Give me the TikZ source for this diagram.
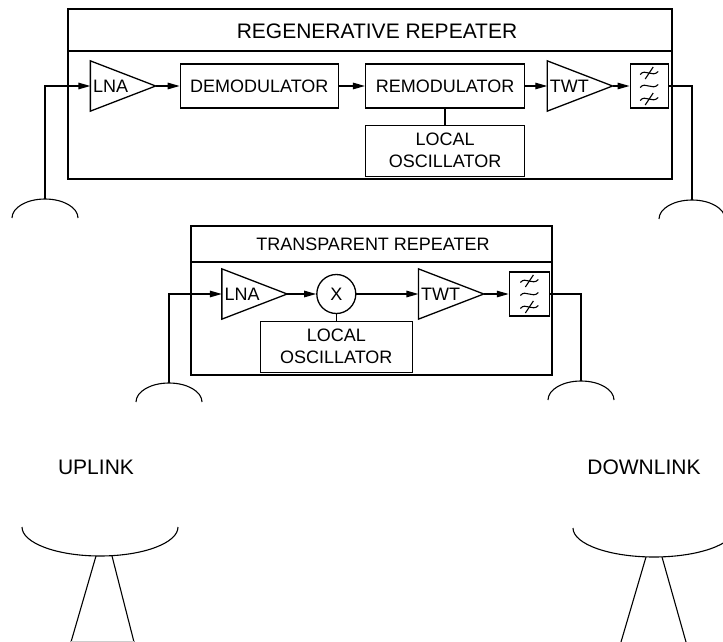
\documentclass[tikz,border=0pt]{standalone}
\usepackage{fontspec}
\setmainfont{Liberation Sans}
\usetikzlibrary{positioning, arrows.meta}

\tikzset{
    block/.style={draw, minimum height=44pt, align=center, inner sep=0pt},
    amp/.style={minimum width=64pt, minimum height=49pt, inner xsep=2pt,
        inner ysep=0pt, text width=60pt, align=left},
    filt/.style={draw, minimum width=38pt, minimum height=44pt, inner sep=0pt,
        path picture={
            \begin{scope}[shift={(path picture bounding box.center)}, line width=1.1pt]
                \foreach \dy in {13,0,-13}
                    \draw ([yshift=\dy pt]-9pt,-1.5pt) .. controls ([yshift=\dy pt]-4pt,5pt)
                        and ([yshift=\dy pt]3pt,-5pt) .. ([yshift=\dy pt]9pt,1.5pt);
                \foreach \dy in {13,-13}
                    \draw ([yshift=\dy pt]-4pt,-6pt) -- ([yshift=\dy pt]4pt,6pt);
            \end{scope}
        }},
    dish/.style={line width=1.1pt},
    biglabel/.style={font=\fontsize{21}{24}\selectfont}
}

\begin{document}
\begin{tikzpicture}[
    x=1pt, y=-1pt, >={Triangle[length=12pt,width=6.5pt]},
    line width=1.3pt, node font=\fontsize{18}{22}\selectfont
]
    \useasboundingbox (0,0) rectangle (723,642);

    % regenerative repeater
    \node[draw, minimum width=604pt, minimum height=170pt] (regen) at (370,94) {};
    \node[biglabel] (regentitle) at (377,31) {REGENERATIVE REPEATER};
    \coordinate (regensplit) at (0,51);
    \draw (regen.west |- regensplit) -- (regen.east |- regensplit);

    \node[amp]                                   (lna1)  at (123,86) {LNA};
    \node[block, minimum width=158pt, right=24pt of lna1]  (demod) {DEMODULATOR};
    \node[block, minimum width=159pt, right=26pt of demod] (remod) {REMODULATOR};
    \node[amp, right=22pt of remod]              (twt1)  {TWT};
    \node[filt, right=17pt of twt1]              (filt1) {};
    \node[block, minimum width=159pt, minimum height=51pt, below=16pt of remod] (losc1) {LOCAL\\OSCILLATOR};

    \draw[->] (lna1.east)  -- (demod.west);
    \draw[->] (demod.east) -- (remod.west);
    \draw[->] (remod.east) -- (twt1.west);
    \draw[->] (twt1.east)  -- (filt1.west);
    \draw (remod) -- (losc1);

    % transparent repeater
    \node[draw, minimum width=361pt, minimum height=149pt] (transp) at (371.5,300.5) {};
    \node (transptitle) at (373,244.5) {TRANSPARENT REPEATER};
    \coordinate (transpsplit) at (0,262);
    \draw (transp.west |- transpsplit) -- (transp.east |- transpsplit);

    \node[amp]                                          (lna2) at (254.5,294) {LNA};
    \node[circle, draw, minimum size=39pt, inner sep=0pt, right=29pt of lna2] (mix) {X};
    \node[amp, right=62pt of mix]                       (twt2) {TWT};
    \node[filt, minimum width=40pt, right=25pt of twt2] (filt2) {};
    \node[block, minimum width=152pt, minimum height=51pt, below=6.5pt of mix] (losc2) {LOCAL\\OSCILLATOR};

    \draw[->] (lna2.east) -- (mix);
    \draw[->] (mix) -- (twt2.west);
    \draw[->] (twt2.east) -- (filt2.west);
    \draw (mix) -- (losc2);

    % amplifier triangles
    \foreach \a in {lna1,twt1,lna2,twt2}
        \draw (\a.north west) -- (\a.east) -- (\a.south west) -- cycle;

    % satellite antennas and feeds
    \coordinate (uprx1)  at (45,199);
    \coordinate (dntx1)  at (692,200);
    \coordinate (uprx2)  at (169,383);
    \coordinate (dntx2)  at (581,381);
    \draw[->] (uprx1) |- (lna1.west);
    \draw (filt1.east) -| (dntx1);
    \draw[->] (uprx2) |- (lna2.west);
    \draw (filt2.east) -| (dntx2);
    \foreach \p in {uprx1,dntx1,uprx2,dntx2}
        \draw[dish] ([xshift=-33pt, yshift=-19pt]\p) arc[start angle=180, end angle=0, x radius=33pt, y radius=19pt];

    % earth stations
    \node[biglabel] (uplink)   at (96,467)  {UPLINK};
    \node[biglabel] (downlink) at (644,467) {DOWNLINK};

    \coordinate (updish) at (100,527);
    \coordinate (dndish) at (654,528);
    \draw[dish] ([xshift=-78pt]updish) arc[start angle=180, end angle=360, x radius=78pt, y radius=29pt];
    \draw[dish] ([xshift=-81pt]dndish) arc[start angle=180, end angle=360, x radius=81pt, y radius=29pt];
    \draw[dish] (96,556) -- (71,642) (112,556) -- (134,642);
    \draw[gray!40, line width=0.8pt] (71,641) -- (134,641);
    \draw[dish] (646,557) -- (621,642) (662,557) -- (686,642);
\end{tikzpicture}
\end{document}
